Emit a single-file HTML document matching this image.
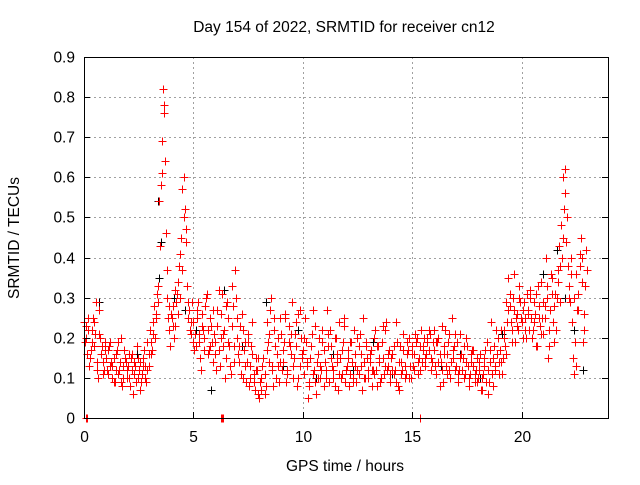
<!DOCTYPE html>
<html><head><meta charset="utf-8"><style>
body{margin:0;background:#fff;font-family:"Liberation Sans",sans-serif}
svg text{font-family:"Liberation Sans",sans-serif;font-size:15.5px;fill:#000}
</style></head><body>
<svg id="chart" width="640" height="480" xmlns="http://www.w3.org/2000/svg" shape-rendering="crispEdges">
<rect width="640" height="480" fill="#fff"/>
<g id="grid"></g><g id="marks"></g><g id="axes"></g>
<text x="344" y="32" text-anchor="middle">Day 154 of 2022, SRMTID for receiver cn12</text>
<text x="345" y="471" text-anchor="middle">GPS time / hours</text>
<text transform="translate(19,238) rotate(-90)" text-anchor="middle">SRMTID / TECUs</text>
</svg>
<script>
const xTicks=[0,5,10,15,20];
const yTicks=[0,0.1,0.2,0.3,0.4,0.5,0.6,0.7,0.8,0.9];
const yTickLabels=["0","0.1","0.2","0.3","0.4","0.5","0.6","0.7","0.8","0.9"];
const seriesA=[.24,.20,.22,.17,.25,.21,.14,.27,.18,.12,.15,.11,.19,.13,.09,.17,.12,.20,.10,.14,.13,.08,.16,.11,.18,.12,.09,.15,.13,.19,.22,.17,.28,.26,.33,.58,.82,.64,.30,.22,.25,.20,.29,.34,.41,.57,.52,.33,.27,.21,.24,.18,.29,.15,.26,.20,.31,.17,.23,.14,.19,.27,.13,.31,.22,.15,.25,.11,.28,.37,.20,.14,.26,.17,.09,.21,.13,.24,.07,.12,.05,.10,.15,.08,.19,.27,.12,.22,.16,.09,.21,.14,.26,.11,.18,.29,.15,.24,.10,.20,.17,.25,.13,.08,.21,.12,.06,.16,.10,.22,.14,.27,.09,.18,.12,.20,.07,.15,.11,.23,.13,.08,.19,.10,.16,.12,.21,.07,.14,.18,.10,.17,.12,.22,.08,.15,.19,.11,.24,.13,.09,.16,.12,.19,.07,.14,.21,.11,.17,.13,.18,.12,.20,.15,.22,.17,.13,.19,.21,.14,.17,.11,.20,.14,.09,.22,.16,.12,.25,.18,.13,.09,.21,.15,.11,.18,.08,.14,.17,.12,.10,.16,.07,.13,.19,.09,.24,.15,.12,.20,.17,.11,.22,.29,.35,.24,.30,.19,.26,.33,.24,.29,.20,.27,.32,.22,.26,.18,.28,.34,.21,.40,.15,.27,.35,.19,.30,.43,.48,.60,.62,.38,.29,.24,.11,.36,.27,.45,.19,.33];
const seriesB=[.19,.16,.13,.22,.18,.29,.10,.20,.14,.17,.12,.18,.14,.09,.16,.11,.14,.08,.17,.12,.10,.15,.06,.13,.10,.14,.11,.17,.09,.13,.16,.24,.20,.31,.54,.69,.76,.46,.25,.18,.28,.23,.31,.38,.45,.60,.44,.25,.22,.29,.17,.27,.21,.12,.22,.28,.16,.25,.19,.21,.12,.32,.20,.18,.10,.29,.18,.23,.14,.30,.16,.23,.10,.19,.14,.08,.18,.11,.15,.06,.09,.13,.06,.24,.14,.30,.08,.18,.13,.25,.12,.19,.09,.23,.16,.13,.21,.08,.27,.15,.11,.19,.05,.15,.27,.09,.14,.20,.12,.17,.10,.18,.22,.13,.08,.16,.24,.10,.19,.09,.17,.11,.14,.22,.09,.18,.13,.25,.10,.15,.14,.08,.20,.12,.18,.09,.15,.22,.12,.17,.15,.11,.24,.08,.18,.12,.10,.16,.20,.10,.13,.21,.11,.18,.14,.20,.16,.22,.12,.19,.13,.19,.08,.23,.16,.13,.19,.10,.15,.21,.19,.12,.16,.10,.20,.13,.11,.17,.09,.15,.14,.07,.11,.17,.06,.14,.11,.18,.22,.14,.22,.15,.18,.24,.28,.19,.36,.25,.22,.29,.20,.25,.31,.22,.25,.29,.18,.33,.23,.25,.28,.33,.22,.36,.24,.31,.37,.29,.40,.52,.44,.30,.36,.15,.19,.27,.41,.34,.22,.42];
const seriesC=[.23,.25,.15,.19,.24,.12,.21,.16,.11,.19,.17,.13,.10,.15,.12,.19,.09,.13,.15,.10,.16,.12,.14,.09,.15,.07,.13,.10,.12,.16,.19,.21,.25,.29,.43,.61,.78,.37,.28,.26,.23,.32,.26,.30,.37,.50,.47,.29,.24,.19,.21,.25,.19,.23,.17,.30,.22,.18,.27,.16,.23,.17,.26,.21,.28,.19,.13,.33,.18,.25,.18,.11,.22,.13,.19,.10,.16,.09,.12,.15,.07,.15,.11,.17,.21,.13,.25,.10,.20,.14,.17,.25,.12,.19,.21,.10,.18,.26,.13,.16,.20,.14,.09,.18,.11,.23,.10,.13,.19,.08,.12,.21,.15,.10,.20,.14,.11,.17,.25,.12,.15,.19,.09,.13,.20,.11,.16,.10,.19,.12,.16,.12,.11,.18,.14,.10,.23,.13,.16,.11,.12,.18,.09,.14,.11,.17,.13,.19,.10,.16,.16,.19,.14,.12,.18,.15,.20,.17,.15,.22,.19,.14,.16,.12,.18,.11,.21,.14,.17,.12,.11,.15,.12,.18,.14,.10,.16,.13,.11,.09,.12,.10,.15,.09,.12,.17,.08,.13,.16,.11,.14,.20,.16,.27,.31,.22,.27,.23,.30,.25,.27,.22,.26,.30,.20,.24,.31,.25,.21,.29,.25,.30,.18,.31,.28,.22,.34,.38,.45,.56,.50,.33,.40,.30,.13,.31,.38,.40,.26,.37];
const zeroTimes=[0.1,0.15,6.25,6.3,6.35,15.35];
const blackT=[0.1,0.7,1.3,2.4,3.4,3.5,3.45,4.1,4.6,5.1,5.8,6.4,7.2,8.3,9.1,9.8,10.6,11.4,12.3,13.2,14.1,15.5,16.3,17.2,18.1,19.1,20.3,21.0,21.6,22.0,22.4,22.8];
const blackV=[0.20,0.29,0.13,0.16,0.54,0.44,0.35,0.30,0.27,0.22,0.07,0.32,0.18,0.29,0.13,0.22,0.10,0.16,0.12,0.19,0.11,0.18,0.13,0.16,0.10,0.21,0.26,0.36,0.42,0.30,0.22,0.12];
const L=84,R=608,T=57,B=418,XMAX=23.95,YMAX=0.9;
const xs=v=>L+v/XMAX*(R-L), ys=v=>B-v/YMAX*(B-T);
const NS="http://www.w3.org/2000/svg";
function mk(tag,attrs,parent){const e=document.createElementNS(NS,tag);for(const k in attrs)e.setAttribute(k,attrs[k]);parent.appendChild(e);return e;}
const grid=document.getElementById('grid'),axes=document.getElementById('axes'),marks=document.getElementById('marks');
yTicks.forEach((v,i)=>{const y=Math.round(ys(v))+0.5;
 if(i>0&&i<yTicks.length-1){const g=mk('line',{x1:L,x2:R,y1:y,y2:y,stroke:'#a0a0a0','stroke-dasharray':'2,3'},grid);}
 const t=mk('line',{x1:L,x2:L+6,y1:y,y2:y,stroke:'#000'},axes);
 const t2=mk('line',{x1:R,x2:R-6,y1:y,y2:y,stroke:'#000'},axes);
 const lb=mk('text',{x:L-9,y:y+5,'text-anchor':'end'},axes);lb.textContent=yTickLabels[i];});
xTicks.forEach(v=>{const x=Math.round(xs(v))+0.5;
 if(v>0){const g=mk('line',{x1:x,x2:x,y1:T,y2:B,stroke:'#a0a0a0','stroke-dasharray':'2,3'},grid);}
 const t=mk('line',{x1:x,x2:x,y1:B,y2:B-6,stroke:'#000'},axes);
 const lb=mk('text',{x:x,y:B+24,'text-anchor':'middle'},axes);lb.textContent=String(v);});
const frame=mk('rect',{x:L+0.5,y:T+0.5,width:R-L,height:B-T,fill:'none',stroke:'#000'},axes);

function plus(t,v,col,name){const x=Math.round(xs(t))+0.5,y=Math.round(ys(v))+0.5;
 const p=mk('path',{d:`M${x-4},${y}H${x+4}M${x},${y-4}V${y+4}`,stroke:col,'stroke-width':1,fill:'none'},marks);
 
 }
blackT.forEach((t,i)=>plus(t,blackV[i],'#000','black-point'));
seriesA.forEach((v,i)=>plus(i*0.1,v,'#f00','red-point'));
seriesB.forEach((v,i)=>plus(i*0.1+0.05,v,'#f00','red-point'));
seriesC.forEach((v,i)=>plus(i*0.1+0.075,v,'#f00','red-point'));
zeroTimes.forEach(t=>plus(t,0,'#f00','zero-point'));
</script>
</body></html>
